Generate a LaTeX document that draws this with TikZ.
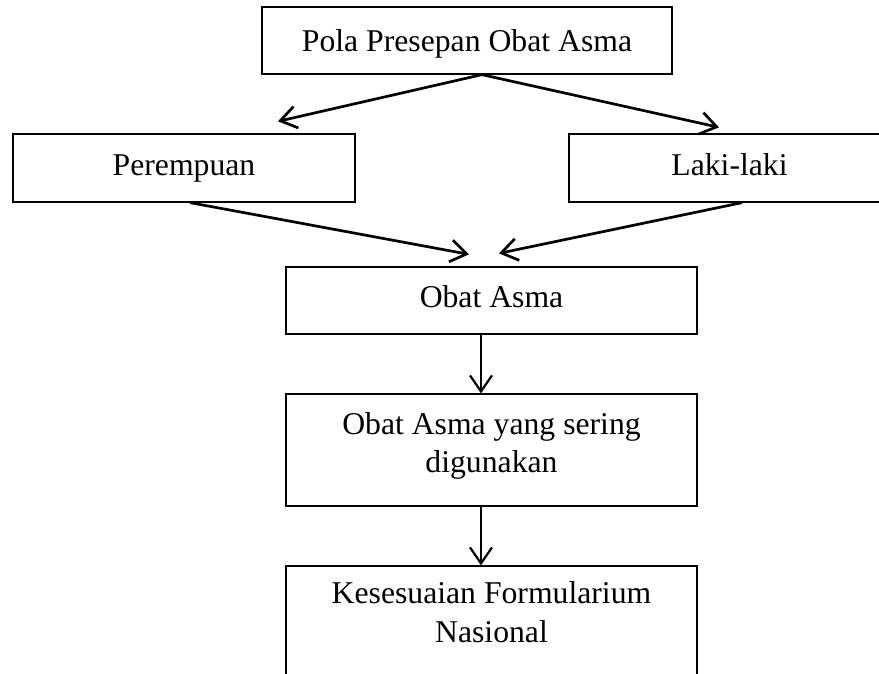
\documentclass[tikz,border=0pt]{standalone}
\usepackage{fontspec}
\setmainfont{Liberation Serif}
\usetikzlibrary{arrows.meta}
\begin{document}
\begin{tikzpicture}[x=1pt,y=-1pt,
  box/.style={draw=black, line width=1.3pt, rectangle, inner sep=0pt,
    font=\fontsize{31.7pt}{38pt}\selectfont, text depth=0pt},
  txt/.style={inner sep=0pt, anchor=base, font=\fontsize{31.7pt}{38pt}\selectfont},
  conn/.style={line width=2.7pt, -{Straight Barb[length=16pt,width=22pt]}},
  vconn/.style={line width=2.2pt, -{Straight Barb[length=16pt,width=22pt]}}]
\useasboundingbox (0,0) rectangle (879,674);
\clip (0,0) rectangle (879,674);
\node[box, minimum width=410pt, minimum height=67pt, text height=23pt] (top) at (467,40.5) {Pola Presepan Obat Asma};
\node[box, minimum width=342pt, minimum height=68pt, text height=15pt] (per) at (184,168) {Perempuan};
\node[box, minimum width=321pt, minimum height=68pt, text height=15pt] (laki) at (729.5,168) {Laki-laki};
\node[box, minimum width=411pt, minimum height=67pt, text height=14pt] (oa) at (491.5,300.5) {Obat Asma};
\node[box, minimum width=411pt, minimum height=112pt] (b2) at (491.5,450) {};
\node[txt] (b2a) at (491.5,434) {Obat Asma yang sering};
\node[txt] (b2b) at (491.5,472) {digunakan};
\node[box, minimum width=411pt, minimum height=140pt] (b3) at (491.5,636) {};
\node[txt] (b3a) at (491.5,603) {Kesesuaian Formularium};
\node[txt] (b3b) at (491.5,642) {Nasional};
\draw[conn] ([xshift=15pt]top.south) -- ([xshift=94pt,yshift=12pt]per.north);
\draw[conn] ([xshift=15pt]top.south) -- ([xshift=-10.5pt,yshift=6pt]laki.north);
\draw[conn] ([xshift=6pt]per.south) -- ([xshift=-22.5pt,yshift=12pt]oa.north);
\draw[conn] ([xshift=12.5pt]laki.south) -- ([xshift=7.5pt,yshift=13pt]oa.north);
\draw[vconn] ([xshift=-10.5pt]oa.south) -- ([xshift=-10.5pt]b2.north);
\draw[vconn] ([xshift=-10.5pt]b2.south) -- ([xshift=-10.5pt]b3.north);
\end{tikzpicture}
\end{document}
